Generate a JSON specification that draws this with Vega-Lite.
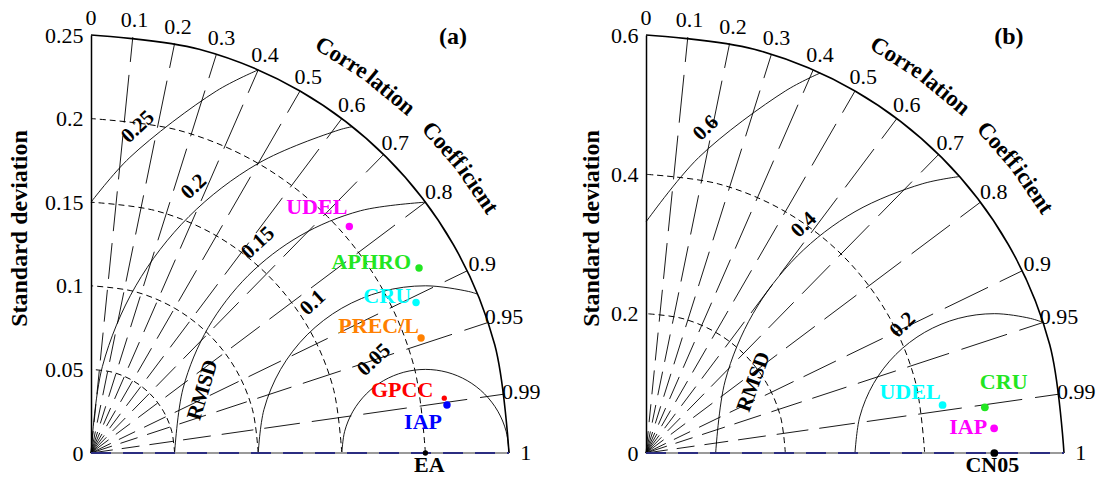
{
"$schema": "https://vega.github.io/schema/vega-lite/v6.json",
"autosize": {"type": "pad"},
"padding": {"left": 7, "top": 7, "right": 5, "bottom": 5},
"background": "white",
"spacing": 137,
"bounds": "flush",
"resolve": {"scale": {"color": "independent"}},
"config": {
  "view": {"stroke": null},
  "axisY": {"domainColor": "black", "domainWidth": 1.5, "ticks": false, "grid": false, "labelFont": "Liberation Serif", "labelFontSize": 22, "labelColor": "black", "labelPadding": 8, "titleFont": "Liberation Serif", "titleFontSize": 24, "titleFontWeight": "bold", "titleColor": "black"},
  "text": {"font": "Liberation Serif", "color": "black"}
},
"datasets": {
  "radA": [
    {"c":0,"x0":0,"y0":0,"x":0,"y":0.25,"lx":0,"ly":0.26},
    {"c":0.1,"x0":0,"y0":0,"x":0.025,"y":0.248747,"lx":0.026,"ly":0.2587},
    {"c":0.2,"x0":0,"y0":0,"x":0.05,"y":0.244949,"lx":0.052,"ly":0.25475},
    {"c":0.3,"x0":0,"y0":0,"x":0.075,"y":0.238485,"lx":0.078,"ly":0.24802},
    {"c":0.4,"x0":0,"y0":0,"x":0.1,"y":0.229129,"lx":0.104,"ly":0.2383},
    {"c":0.5,"x0":0,"y0":0,"x":0.125,"y":0.216506,"lx":0.13,"ly":0.22517},
    {"c":0.6,"x0":0,"y0":0,"x":0.15,"y":0.2,"lx":0.156,"ly":0.208},
    {"c":0.7,"x0":0,"y0":0,"x":0.175,"y":0.178536,"lx":0.182,"ly":0.18568},
    {"c":0.8,"x0":0,"y0":0,"x":0.2,"y":0.15,"lx":0.208,"ly":0.156},
    {"c":0.9,"x0":0,"y0":0,"x":0.225,"y":0.108972,"lx":0.234,"ly":0.11333},
    {"c":0.95,"x0":0,"y0":0,"x":0.2375,"y":0.078062,"lx":0.247,"ly":0.08118},
    {"c":0.99,"x0":0,"y0":0,"x":0.2475,"y":0.035267,"lx":0.2574,"ly":0.03668},
    {"c":1,"x0":0,"y0":0,"x":0.25,"y":0,"lx":0.26,"ly":0}
  ],
  "radB": [
    {"c":0,"x0":0,"y0":0,"x":0,"y":0.6,"lx":0,"ly":0.624},
    {"c":0.1,"x0":0,"y0":0,"x":0.06,"y":0.596992,"lx":0.0624,"ly":0.62088},
    {"c":0.2,"x0":0,"y0":0,"x":0.12,"y":0.587878,"lx":0.1248,"ly":0.6114},
    {"c":0.3,"x0":0,"y0":0,"x":0.18,"y":0.572364,"lx":0.1872,"ly":0.59525},
    {"c":0.4,"x0":0,"y0":0,"x":0.24,"y":0.549909,"lx":0.2496,"ly":0.57192},
    {"c":0.5,"x0":0,"y0":0,"x":0.3,"y":0.519615,"lx":0.312,"ly":0.54041},
    {"c":0.6,"x0":0,"y0":0,"x":0.36,"y":0.48,"lx":0.3744,"ly":0.4992},
    {"c":0.7,"x0":0,"y0":0,"x":0.42,"y":0.428486,"lx":0.4368,"ly":0.44563},
    {"c":0.8,"x0":0,"y0":0,"x":0.48,"y":0.36,"lx":0.4992,"ly":0.3744},
    {"c":0.9,"x0":0,"y0":0,"x":0.54,"y":0.261534,"lx":0.5616,"ly":0.27199},
    {"c":0.95,"x0":0,"y0":0,"x":0.57,"y":0.18735,"lx":0.5928,"ly":0.19483},
    {"c":0.99,"x0":0,"y0":0,"x":0.594,"y":0.084642,"lx":0.61776,"ly":0.08803},
    {"c":1,"x0":0,"y0":0,"x":0.6,"y":0,"lx":0.624,"ly":0}
  ],
  "arcsA": [
    {"set":"outer","g":"o","k":0,"x":0.25,"y":0},{"set":"outer","g":"o","k":1,"x":0.241481,"y":0.064705},{"set":"outer","g":"o","k":2,"x":0.216506,"y":0.125},{"set":"outer","g":"o","k":3,"x":0.176777,"y":0.176777},{"set":"outer","g":"o","k":4,"x":0.125,"y":0.216506},{"set":"outer","g":"o","k":5,"x":0.064705,"y":0.241481},{"set":"outer","g":"o","k":6,"x":0,"y":0.25},
    {"set":"std","g":"s05","k":0,"x":0.05,"y":0},{"set":"std","g":"s05","k":1,"x":0.048296,"y":0.012941},{"set":"std","g":"s05","k":2,"x":0.043301,"y":0.025},{"set":"std","g":"s05","k":3,"x":0.035355,"y":0.035355},{"set":"std","g":"s05","k":4,"x":0.025,"y":0.043301},{"set":"std","g":"s05","k":5,"x":0.012941,"y":0.048296},{"set":"std","g":"s05","k":6,"x":0,"y":0.05},
    {"set":"std","g":"s10","k":0,"x":0.1,"y":0},{"set":"std","g":"s10","k":1,"x":0.096593,"y":0.025882},{"set":"std","g":"s10","k":2,"x":0.086603,"y":0.05},{"set":"std","g":"s10","k":3,"x":0.070711,"y":0.070711},{"set":"std","g":"s10","k":4,"x":0.05,"y":0.086603},{"set":"std","g":"s10","k":5,"x":0.025882,"y":0.096593},{"set":"std","g":"s10","k":6,"x":0,"y":0.1},
    {"set":"std","g":"s15","k":0,"x":0.15,"y":0},{"set":"std","g":"s15","k":1,"x":0.144889,"y":0.038823},{"set":"std","g":"s15","k":2,"x":0.129904,"y":0.075},{"set":"std","g":"s15","k":3,"x":0.106066,"y":0.106066},{"set":"std","g":"s15","k":4,"x":0.075,"y":0.129904},{"set":"std","g":"s15","k":5,"x":0.038823,"y":0.144889},{"set":"std","g":"s15","k":6,"x":0,"y":0.15},
    {"set":"std","g":"s20","k":0,"x":0.2,"y":0},{"set":"std","g":"s20","k":1,"x":0.193185,"y":0.051764},{"set":"std","g":"s20","k":2,"x":0.173205,"y":0.1},{"set":"std","g":"s20","k":3,"x":0.141421,"y":0.141421},{"set":"std","g":"s20","k":4,"x":0.1,"y":0.173205},{"set":"std","g":"s20","k":5,"x":0.051764,"y":0.193185},{"set":"std","g":"s20","k":6,"x":0,"y":0.2},
    {"set":"rms","g":"r05","k":0,"x":0.25,"y":0},{"set":"rms","g":"r05","k":1,"x":0.248296,"y":0.012941},{"set":"rms","g":"r05","k":2,"x":0.243301,"y":0.025},{"set":"rms","g":"r05","k":3,"x":0.235355,"y":0.035355},{"set":"rms","g":"r05","k":4,"x":0.225,"y":0.043301},{"set":"rms","g":"r05","k":5,"x":0.212941,"y":0.048296},{"set":"rms","g":"r05","k":6,"x":0.2,"y":0.05},{"set":"rms","g":"r05","k":7,"x":0.187059,"y":0.048296},{"set":"rms","g":"r05","k":8,"x":0.175,"y":0.043301},{"set":"rms","g":"r05","k":9,"x":0.164645,"y":0.035355},{"set":"rms","g":"r05","k":10,"x":0.156699,"y":0.025},{"set":"rms","g":"r05","k":11,"x":0.151704,"y":0.012941},{"set":"rms","g":"r05","k":12,"x":0.15,"y":0},
    {"set":"rms","g":"r10","k":0,"x":0.23125,"y":0.09499},{"set":"rms","g":"r10","k":1,"x":0.225882,"y":0.096593},{"set":"rms","g":"r10","k":2,"x":0.2,"y":0.1},{"set":"rms","g":"r10","k":3,"x":0.174118,"y":0.096593},{"set":"rms","g":"r10","k":4,"x":0.15,"y":0.086603},{"set":"rms","g":"r10","k":5,"x":0.129289,"y":0.070711},{"set":"rms","g":"r10","k":6,"x":0.113397,"y":0.05},{"set":"rms","g":"r10","k":7,"x":0.103407,"y":0.025882},{"set":"rms","g":"r10","k":8,"x":0.1,"y":0},
    {"set":"rms","g":"r15","k":0,"x":0.2,"y":0.15},{"set":"rms","g":"r15","k":1,"x":0.161177,"y":0.144889},{"set":"rms","g":"r15","k":2,"x":0.125,"y":0.129904},{"set":"rms","g":"r15","k":3,"x":0.093934,"y":0.106066},{"set":"rms","g":"r15","k":4,"x":0.070096,"y":0.075},{"set":"rms","g":"r15","k":5,"x":0.055111,"y":0.038823},{"set":"rms","g":"r15","k":6,"x":0.05,"y":0},
    {"set":"rms","g":"r20","k":0,"x":0.15625,"y":0.19516},{"set":"rms","g":"r20","k":1,"x":0.148236,"y":0.193185},{"set":"rms","g":"r20","k":2,"x":0.1,"y":0.173205},{"set":"rms","g":"r20","k":3,"x":0.058579,"y":0.141421},{"set":"rms","g":"r20","k":4,"x":0.026795,"y":0.1},{"set":"rms","g":"r20","k":5,"x":0.006815,"y":0.051764},{"set":"rms","g":"r20","k":6,"x":0,"y":0},
    {"set":"rms","g":"r25","k":0,"x":0.1,"y":0.22913},{"set":"rms","g":"r25","k":1,"x":0.075,"y":0.216506},{"set":"rms","g":"r25","k":2,"x":0.023223,"y":0.176777},{"set":"rms","g":"r25","k":3,"x":0,"y":0.15}
  ],
  "arcsB": [
    {"set":"outer","g":"o","k":0,"x":0.6,"y":0},{"set":"outer","g":"o","k":1,"x":0.579555,"y":0.155291},{"set":"outer","g":"o","k":2,"x":0.519615,"y":0.3},{"set":"outer","g":"o","k":3,"x":0.424264,"y":0.424264},{"set":"outer","g":"o","k":4,"x":0.3,"y":0.519615},{"set":"outer","g":"o","k":5,"x":0.155291,"y":0.579555},{"set":"outer","g":"o","k":6,"x":0,"y":0.6},
    {"set":"std","g":"s20","k":0,"x":0.2,"y":0},{"set":"std","g":"s20","k":1,"x":0.193185,"y":0.051764},{"set":"std","g":"s20","k":2,"x":0.173205,"y":0.1},{"set":"std","g":"s20","k":3,"x":0.141421,"y":0.141421},{"set":"std","g":"s20","k":4,"x":0.1,"y":0.173205},{"set":"std","g":"s20","k":5,"x":0.051764,"y":0.193185},{"set":"std","g":"s20","k":6,"x":0,"y":0.2},
    {"set":"std","g":"s40","k":0,"x":0.4,"y":0},{"set":"std","g":"s40","k":1,"x":0.38637,"y":0.103528},{"set":"std","g":"s40","k":2,"x":0.34641,"y":0.2},{"set":"std","g":"s40","k":3,"x":0.282843,"y":0.282843},{"set":"std","g":"s40","k":4,"x":0.2,"y":0.34641},{"set":"std","g":"s40","k":5,"x":0.103528,"y":0.38637},{"set":"std","g":"s40","k":6,"x":0,"y":0.4},
    {"set":"rms","g":"r20","k":0,"x":0.57,"y":0.18735},{"set":"rms","g":"r20","k":1,"x":0.551764,"y":0.193185},{"set":"rms","g":"r20","k":2,"x":0.5,"y":0.2},{"set":"rms","g":"r20","k":3,"x":0.448236,"y":0.193185},{"set":"rms","g":"r20","k":4,"x":0.4,"y":0.173205},{"set":"rms","g":"r20","k":5,"x":0.358579,"y":0.141421},{"set":"rms","g":"r20","k":6,"x":0.32679,"y":0.1},{"set":"rms","g":"r20","k":7,"x":0.306815,"y":0.051764},{"set":"rms","g":"r20","k":8,"x":0.3,"y":0},
    {"set":"rms","g":"r40","k":0,"x":0.45,"y":0.39686},{"set":"rms","g":"r40","k":1,"x":0.396472,"y":0.38637},{"set":"rms","g":"r40","k":2,"x":0.3,"y":0.34641},{"set":"rms","g":"r40","k":3,"x":0.217157,"y":0.282843},{"set":"rms","g":"r40","k":4,"x":0.15359,"y":0.2},{"set":"rms","g":"r40","k":5,"x":0.11363,"y":0.103528},{"set":"rms","g":"r40","k":6,"x":0.1,"y":0},
    {"set":"rms","g":"r60","k":0,"x":0.25,"y":0.54544},{"set":"rms","g":"r60","k":1,"x":0.2,"y":0.519615},{"set":"rms","g":"r60","k":2,"x":0.075736,"y":0.424264},{"set":"rms","g":"r60","k":3,"x":0,"y":0.33166}
  ],
  "ptsA": [
    {"name":"UDEL","x":0.1545,"y":0.1355},
    {"name":"APHRO","x":0.1962,"y":0.1106},
    {"name":"CRU","x":0.1944,"y":0.09},
    {"name":"PREC/L","x":0.1974,"y":0.0688},
    {"name":"GPCC","x":0.2113,"y":0.0328},
    {"name":"IAP","x":0.2129,"y":0.0287},
    {"name":"EA","x":0.2,"y":0}
  ],
  "ptsB": [
    {"name":"UDEL","x":0.4257,"y":0.0689},
    {"name":"CRU","x":0.4864,"y":0.0656},
    {"name":"IAP","x":0.4997,"y":0.0354},
    {"name":"CN05","x":0.5,"y":0}
  ]
},
"hconcat": [
{
  "width": 418, "height": 418,
  "layer": [
    {"data": {"name": "arcsA"}, "transform": [{"filter": "datum.set == 'std'"}],
     "mark": {"type": "line", "interpolate": "catmull-rom", "color": "black", "strokeWidth": 1, "strokeDash": [6, 4]},
     "encoding": {
       "x": {"field": "x", "type": "quantitative", "scale": {"domain": [0, 0.25], "nice": false, "zero": true}, "axis": null},
       "y": {"field": "y", "type": "quantitative", "scale": {"domain": [0, 0.25], "nice": false, "zero": true}, "axis": {"title": "Standard deviation", "values": [0, 0.05, 0.1, 0.15, 0.2, 0.25], "format": "~g", "titleX": -72, "titleY": 193, "titleAngle": -90, "titleAlign": "center", "titleBaseline": "middle"}},
       "detail": {"field": "g", "type": "nominal"}, "order": {"field": "k", "type": "quantitative"}}},
    {"data": {"name": "radA"}, "transform": [{"filter": "datum.c > 0 && datum.c < 1"}],
     "mark": {"type": "rule", "color": "black", "strokeWidth": 0.9, "strokeDash": [22,9,18,10,24,10,28,11,32,11,36,12,40,12,44,13,48,13,52,14]},
     "encoding": {
       "x": {"field": "x0", "type": "quantitative", "axis": null},
       "y": {"field": "y0", "type": "quantitative"},
       "x2": {"field": "x"}, "y2": {"field": "y"}}},
    {"data": {"name": "arcsA"}, "transform": [{"filter": "datum.set == 'rms'"}],
     "mark": {"type": "line", "interpolate": "catmull-rom", "color": "black", "strokeWidth": 0.9},
     "encoding": {"x": {"field": "x", "type": "quantitative", "axis": null}, "y": {"field": "y", "type": "quantitative"},
       "detail": {"field": "g", "type": "nominal"}, "order": {"field": "k", "type": "quantitative"}}},
    {"data": {"name": "arcsA"}, "transform": [{"filter": "datum.set == 'outer'"}],
     "mark": {"type": "line", "interpolate": "catmull-rom", "color": "black", "strokeWidth": 1.6},
     "encoding": {"x": {"field": "x", "type": "quantitative", "axis": null}, "y": {"field": "y", "type": "quantitative"},
       "detail": {"field": "g", "type": "nominal"}, "order": {"field": "k", "type": "quantitative"}}},
    {"data": {"values": [{"x": 0, "x2": 0.25, "y": 0}]}, "mark": {"type": "rule", "color": "#9a9a9a", "strokeWidth": 2},
     "encoding": {"x": {"field": "x", "type": "quantitative", "axis": null}, "x2": {"field": "x2"}, "y": {"field": "y", "type": "quantitative"}}},
    {"data": {"values": [{"x": 0, "x2": 0.25, "y": 0}]}, "mark": {"type": "rule", "color": "#2b2d80", "strokeWidth": 2, "strokeDash": [20, 12]},
     "encoding": {"x": {"field": "x", "type": "quantitative", "axis": null}, "x2": {"field": "x2"}, "y": {"field": "y", "type": "quantitative"}}},
    {"data": {"name": "radA"},
     "mark": {"type": "text", "fontSize": 22, "align": "center", "baseline": "middle"},
     "encoding": {"x": {"field": "lx", "type": "quantitative", "axis": null}, "y": {"field": "ly", "type": "quantitative"}, "text": {"field": "c", "type": "nominal"}}},
    {"data": {"values": [{"t": "0.25", "x": 0.0281, "y": 0.195}, {"t": "0.2", "x": 0.0616, "y": 0.1591}, {"t": "0.15", "x": 0.0999, "y": 0.1256}, {"t": "0.1", "x": 0.1328, "y": 0.0897}, {"t": "0.05", "x": 0.1693, "y": 0.0556}]},
     "mark": {"type": "text", "fontSize": 21, "fontWeight": "bold", "angle": -43, "align": "center", "baseline": "middle"},
     "encoding": {"x": {"field": "x", "type": "quantitative", "axis": null}, "y": {"field": "y", "type": "quantitative"}, "text": {"field": "t", "type": "nominal"}}},
    {"data": {"values": [{"t": "RMSD", "x": 0.067, "y": 0.0377}]},
     "mark": {"type": "text", "fontSize": 21, "fontWeight": "bold", "angle": -73, "align": "center", "baseline": "middle"},
     "encoding": {"x": {"field": "x", "type": "quantitative", "axis": null}, "y": {"field": "y", "type": "quantitative"}, "text": {"field": "t", "type": "nominal"}}},
    {"data": {"values": [{"t": "Corre", "x": 0.15, "y": 0.2364}]}, "mark": {"type": "text", "fontSize": 23, "fontWeight": "bold", "angle": 32.4, "align": "center", "baseline": "middle"},
     "encoding": {"x": {"field": "x", "type": "quantitative", "axis": null}, "y": {"field": "y", "type": "quantitative"}, "text": {"field": "t", "type": "nominal"}}},
    {"data": {"values": [{"t": "lation", "x": 0.1791, "y": 0.2153}]}, "mark": {"type": "text", "fontSize": 23, "fontWeight": "bold", "angle": 39.8, "align": "center", "baseline": "middle"},
     "encoding": {"x": {"field": "x", "type": "quantitative", "axis": null}, "y": {"field": "y", "type": "quantitative"}, "text": {"field": "t", "type": "nominal"}}},
    {"data": {"values": [{"t": "Coeff", "x": 0.2109, "y": 0.1842}]}, "mark": {"type": "text", "fontSize": 23, "fontWeight": "bold", "angle": 48.9, "align": "center", "baseline": "middle"},
     "encoding": {"x": {"field": "x", "type": "quantitative", "axis": null}, "y": {"field": "y", "type": "quantitative"}, "text": {"field": "t", "type": "nominal"}}},
    {"data": {"values": [{"t": "icient", "x": 0.2314, "y": 0.1576}]}, "mark": {"type": "text", "fontSize": 23, "fontWeight": "bold", "angle": 55.7, "align": "center", "baseline": "middle"},
     "encoding": {"x": {"field": "x", "type": "quantitative", "axis": null}, "y": {"field": "y", "type": "quantitative"}, "text": {"field": "t", "type": "nominal"}}},
    {"data": {"values": [{"t": "(a)", "x": 0.2165, "y": 0.2488}]}, "mark": {"type": "text", "fontSize": 24, "fontWeight": "bold", "align": "center", "baseline": "middle"},
     "encoding": {"x": {"field": "x", "type": "quantitative", "axis": null}, "y": {"field": "y", "type": "quantitative"}, "text": {"field": "t", "type": "nominal"}}},
    {"data": {"name": "ptsA"}, "transform": [{"filter": "datum.name != 'GPCC' && datum.name != 'EA'"}],
     "mark": {"type": "point", "filled": true, "shape": "circle", "size": 55, "opacity": 1},
     "encoding": {"x": {"field": "x", "type": "quantitative", "axis": null}, "y": {"field": "y", "type": "quantitative"},
       "color": {"field": "name", "type": "nominal", "legend": null, "scale": {"domain": ["UDEL","APHRO","CRU","PREC/L","GPCC","IAP","EA"], "range": ["#ff00ff","#22e622","#00ffff","#ff8000","#ff0000","#0000ff","#000000"]}}}},
    {"data": {"name": "ptsA"}, "transform": [{"filter": "datum.name == 'GPCC' || datum.name == 'EA'"}],
     "mark": {"type": "point", "filled": true, "shape": "circle", "size": 28, "opacity": 1},
     "encoding": {"x": {"field": "x", "type": "quantitative", "axis": null}, "y": {"field": "y", "type": "quantitative"},
       "color": {"field": "name", "type": "nominal", "legend": null, "scale": {"domain": ["UDEL","APHRO","CRU","PREC/L","GPCC","IAP","EA"], "range": ["#ff00ff","#22e622","#00ffff","#ff8000","#ff0000","#0000ff","#000000"]}}}},
    {"data": {"name": "ptsA"}, "transform": [{"filter": "datum.name == 'UDEL'"}],
     "mark": {"type": "text", "fontSize": 22, "fontWeight": "bold", "align": "right", "baseline": "middle", "dx": -2, "dy": -19, "color": "#ff00ff"},
     "encoding": {"x": {"field": "x", "type": "quantitative", "axis": null}, "y": {"field": "y", "type": "quantitative"}, "text": {"field": "name", "type": "nominal"}}},
    {"data": {"name": "ptsA"}, "transform": [{"filter": "datum.name == 'APHRO'"}],
     "mark": {"type": "text", "fontSize": 22, "fontWeight": "bold", "align": "right", "baseline": "middle", "dx": -8, "dy": -6, "color": "#22e622"},
     "encoding": {"x": {"field": "x", "type": "quantitative", "axis": null}, "y": {"field": "y", "type": "quantitative"}, "text": {"field": "name", "type": "nominal"}}},
    {"data": {"name": "ptsA"}, "transform": [{"filter": "datum.name == 'CRU'"}],
     "mark": {"type": "text", "fontSize": 22, "fontWeight": "bold", "align": "right", "baseline": "middle", "dx": -5, "dy": -7, "color": "#00ffff"},
     "encoding": {"x": {"field": "x", "type": "quantitative", "axis": null}, "y": {"field": "y", "type": "quantitative"}, "text": {"field": "name", "type": "nominal"}}},
    {"data": {"name": "ptsA"}, "transform": [{"filter": "datum.name == 'PREC/L'"}],
     "mark": {"type": "text", "fontSize": 22, "fontWeight": "bold", "align": "right", "baseline": "middle", "dx": -2, "dy": -12, "color": "#ff8000"},
     "encoding": {"x": {"field": "x", "type": "quantitative", "axis": null}, "y": {"field": "y", "type": "quantitative"}, "text": {"field": "name", "type": "nominal"}}},
    {"data": {"name": "ptsA"}, "transform": [{"filter": "datum.name == 'GPCC'"}],
     "mark": {"type": "text", "fontSize": 22, "fontWeight": "bold", "align": "right", "baseline": "middle", "dx": -11, "dy": -8, "color": "#ff0000"},
     "encoding": {"x": {"field": "x", "type": "quantitative", "axis": null}, "y": {"field": "y", "type": "quantitative"}, "text": {"field": "name", "type": "nominal"}}},
    {"data": {"name": "ptsA"}, "transform": [{"filter": "datum.name == 'IAP'"}],
     "mark": {"type": "text", "fontSize": 22, "fontWeight": "bold", "align": "right", "baseline": "middle", "dx": -5, "dy": 17, "color": "#0000ff"},
     "encoding": {"x": {"field": "x", "type": "quantitative", "axis": null}, "y": {"field": "y", "type": "quantitative"}, "text": {"field": "name", "type": "nominal"}}},
    {"data": {"name": "ptsA"}, "transform": [{"filter": "datum.name == 'EA'"}],
     "mark": {"type": "text", "fontSize": 22, "fontWeight": "bold", "align": "center", "baseline": "middle", "dx": 4, "dy": 12, "color": "#000000"},
     "encoding": {"x": {"field": "x", "type": "quantitative", "axis": null}, "y": {"field": "y", "type": "quantitative"}, "text": {"field": "name", "type": "nominal"}}}
  ]
},
{
  "width": 418, "height": 418,
  "layer": [
    {"data": {"name": "arcsB"}, "transform": [{"filter": "datum.set == 'std'"}],
     "mark": {"type": "line", "interpolate": "catmull-rom", "color": "black", "strokeWidth": 1, "strokeDash": [6, 4]},
     "encoding": {
       "x": {"field": "x", "type": "quantitative", "scale": {"domain": [0, 0.6], "nice": false, "zero": true}, "axis": null},
       "y": {"field": "y", "type": "quantitative", "scale": {"domain": [0, 0.6], "nice": false, "zero": true}, "axis": {"title": "Standard deviation", "values": [0, 0.2, 0.4, 0.6], "format": "~g", "titleX": -55, "titleY": 193, "titleAngle": -90, "titleAlign": "center", "titleBaseline": "middle"}},
       "detail": {"field": "g", "type": "nominal"}, "order": {"field": "k", "type": "quantitative"}}},
    {"data": {"name": "radB"}, "transform": [{"filter": "datum.c > 0 && datum.c < 1"}],
     "mark": {"type": "rule", "color": "black", "strokeWidth": 0.9, "strokeDash": [22,9,18,10,24,10,28,11,32,11,36,12,40,12,44,13,48,13,52,14]},
     "encoding": {
       "x": {"field": "x0", "type": "quantitative", "axis": null},
       "y": {"field": "y0", "type": "quantitative"},
       "x2": {"field": "x"}, "y2": {"field": "y"}}},
    {"data": {"name": "arcsB"}, "transform": [{"filter": "datum.set == 'rms'"}],
     "mark": {"type": "line", "interpolate": "catmull-rom", "color": "black", "strokeWidth": 0.9},
     "encoding": {"x": {"field": "x", "type": "quantitative", "axis": null}, "y": {"field": "y", "type": "quantitative"},
       "detail": {"field": "g", "type": "nominal"}, "order": {"field": "k", "type": "quantitative"}}},
    {"data": {"name": "arcsB"}, "transform": [{"filter": "datum.set == 'outer'"}],
     "mark": {"type": "line", "interpolate": "catmull-rom", "color": "black", "strokeWidth": 1.6},
     "encoding": {"x": {"field": "x", "type": "quantitative", "axis": null}, "y": {"field": "y", "type": "quantitative"},
       "detail": {"field": "g", "type": "nominal"}, "order": {"field": "k", "type": "quantitative"}}},
    {"data": {"values": [{"x": 0, "x2": 0.6, "y": 0}]}, "mark": {"type": "rule", "color": "#9a9a9a", "strokeWidth": 2},
     "encoding": {"x": {"field": "x", "type": "quantitative", "axis": null}, "x2": {"field": "x2"}, "y": {"field": "y", "type": "quantitative"}}},
    {"data": {"values": [{"x": 0, "x2": 0.6, "y": 0}]}, "mark": {"type": "rule", "color": "#2b2d80", "strokeWidth": 2, "strokeDash": [20, 12]},
     "encoding": {"x": {"field": "x", "type": "quantitative", "axis": null}, "x2": {"field": "x2"}, "y": {"field": "y", "type": "quantitative"}}},
    {"data": {"name": "radB"},
     "mark": {"type": "text", "fontSize": 22, "align": "center", "baseline": "middle"},
     "encoding": {"x": {"field": "lx", "type": "quantitative", "axis": null}, "y": {"field": "ly", "type": "quantitative"}, "text": {"field": "c", "type": "nominal"}}},
    {"data": {"values": [{"t": "0.6", "x": 0.0861, "y": 0.4663}, {"t": "0.4", "x": 0.2267, "y": 0.3271}, {"t": "0.2", "x": 0.3687, "y": 0.1836}]},
     "mark": {"type": "text", "fontSize": 21, "fontWeight": "bold", "angle": -44, "align": "center", "baseline": "middle"},
     "encoding": {"x": {"field": "x", "type": "quantitative", "axis": null}, "y": {"field": "y", "type": "quantitative"}, "text": {"field": "t", "type": "nominal"}}},
    {"data": {"values": [{"t": "RMSD", "x": 0.155, "y": 0.1019}]},
     "mark": {"type": "text", "fontSize": 21, "fontWeight": "bold", "angle": -70, "align": "center", "baseline": "middle"},
     "encoding": {"x": {"field": "x", "type": "quantitative", "axis": null}, "y": {"field": "y", "type": "quantitative"}, "text": {"field": "t", "type": "nominal"}}},
    {"data": {"values": [{"t": "Corre", "x": 0.36, "y": 0.5674}]}, "mark": {"type": "text", "fontSize": 23, "fontWeight": "bold", "angle": 32.4, "align": "center", "baseline": "middle"},
     "encoding": {"x": {"field": "x", "type": "quantitative", "axis": null}, "y": {"field": "y", "type": "quantitative"}, "text": {"field": "t", "type": "nominal"}}},
    {"data": {"values": [{"t": "lation", "x": 0.4298, "y": 0.5167}]}, "mark": {"type": "text", "fontSize": 23, "fontWeight": "bold", "angle": 39.8, "align": "center", "baseline": "middle"},
     "encoding": {"x": {"field": "x", "type": "quantitative", "axis": null}, "y": {"field": "y", "type": "quantitative"}, "text": {"field": "t", "type": "nominal"}}},
    {"data": {"values": [{"t": "Coeff", "x": 0.5062, "y": 0.4421}]}, "mark": {"type": "text", "fontSize": 23, "fontWeight": "bold", "angle": 48.9, "align": "center", "baseline": "middle"},
     "encoding": {"x": {"field": "x", "type": "quantitative", "axis": null}, "y": {"field": "y", "type": "quantitative"}, "text": {"field": "t", "type": "nominal"}}},
    {"data": {"values": [{"t": "icient", "x": 0.5554, "y": 0.3782}]}, "mark": {"type": "text", "fontSize": 23, "fontWeight": "bold", "angle": 55.7, "align": "center", "baseline": "middle"},
     "encoding": {"x": {"field": "x", "type": "quantitative", "axis": null}, "y": {"field": "y", "type": "quantitative"}, "text": {"field": "t", "type": "nominal"}}},
    {"data": {"values": [{"t": "(b)", "x": 0.5208, "y": 0.5968}]}, "mark": {"type": "text", "fontSize": 24, "fontWeight": "bold", "align": "center", "baseline": "middle"},
     "encoding": {"x": {"field": "x", "type": "quantitative", "axis": null}, "y": {"field": "y", "type": "quantitative"}, "text": {"field": "t", "type": "nominal"}}},
    {"data": {"name": "ptsB"},
     "mark": {"type": "point", "filled": true, "shape": "circle", "size": 60, "opacity": 1},
     "encoding": {"x": {"field": "x", "type": "quantitative", "axis": null}, "y": {"field": "y", "type": "quantitative"},
       "color": {"field": "name", "type": "nominal", "legend": null, "scale": {"domain": ["UDEL","CRU","IAP","CN05"], "range": ["#00ffff","#22e622","#ff00ff","#000000"]}}}},
    {"data": {"name": "ptsB"}, "transform": [{"filter": "datum.name == 'UDEL'"}],
     "mark": {"type": "text", "fontSize": 22, "fontWeight": "bold", "align": "right", "baseline": "middle", "dx": -2, "dy": -13, "color": "#00ffff"},
     "encoding": {"x": {"field": "x", "type": "quantitative", "axis": null}, "y": {"field": "y", "type": "quantitative"}, "text": {"field": "name", "type": "nominal"}}},
    {"data": {"name": "ptsB"}, "transform": [{"filter": "datum.name == 'CRU'"}],
     "mark": {"type": "text", "fontSize": 22, "fontWeight": "bold", "align": "left", "baseline": "middle", "dx": -5, "dy": -25, "color": "#22e622"},
     "encoding": {"x": {"field": "x", "type": "quantitative", "axis": null}, "y": {"field": "y", "type": "quantitative"}, "text": {"field": "name", "type": "nominal"}}},
    {"data": {"name": "ptsB"}, "transform": [{"filter": "datum.name == 'IAP'"}],
     "mark": {"type": "text", "fontSize": 22, "fontWeight": "bold", "align": "right", "baseline": "middle", "dx": -7, "dy": -1, "color": "#ff00ff"},
     "encoding": {"x": {"field": "x", "type": "quantitative", "axis": null}, "y": {"field": "y", "type": "quantitative"}, "text": {"field": "name", "type": "nominal"}}},
    {"data": {"name": "ptsB"}, "transform": [{"filter": "datum.name == 'CN05'"}],
     "mark": {"type": "text", "fontSize": 22, "fontWeight": "bold", "align": "center", "baseline": "middle", "dx": -2, "dy": 12, "color": "#000000"},
     "encoding": {"x": {"field": "x", "type": "quantitative", "axis": null}, "y": {"field": "y", "type": "quantitative"}, "text": {"field": "name", "type": "nominal"}}}
  ]
}
]
}
